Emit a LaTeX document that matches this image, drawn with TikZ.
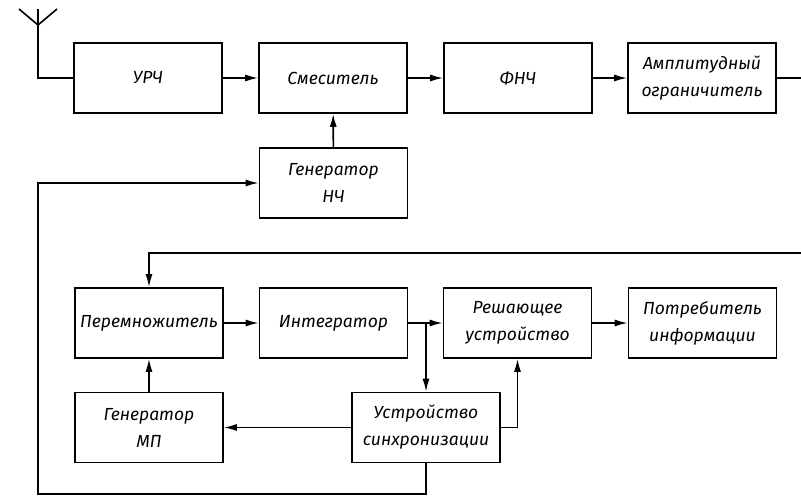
\documentclass[tikz,border=0pt]{standalone}
\usepackage{fontspec}
\setmainfont{Fira Sans}
\usetikzlibrary{arrows.meta}
\begin{document}
\begin{tikzpicture}[x=1pt,y=-1pt,
  line width=1.6pt,
  blk/.style={draw, rectangle, minimum width=148pt, minimum height=70pt, inner sep=1pt, align=center,
    font=\fontsize{17.5}{27}\selectfont\itshape},
  arr/.style={-{Latex[length=13pt,width=7pt]}}]
\useasboundingbox (0,0) rectangle (801,497);
% top row
\node[blk] (urch) at (148,78) {УРЧ};
\node[blk] (smes) at (333,78) {Смеситель};
\node[blk] (fnch) at (518,78) {ФНЧ};
\node[blk] (ampl) at (702,78) {Амплитудный\\ограничитель};
\node[blk] (gennch) at (333.5,183) {Генератор\\НЧ};
% middle row
\node[blk] (perem) at (149,323) {Перемножитель};
\node[blk] (integ) at (333.5,323) {Интегратор};
\node[blk] (resh) at (517.5,323) {Решающее\\устройство};
\node[blk] (potr) at (702.5,323) {Потребитель\\информации};
% bottom row
\node[blk] (genmp) at (149,427.5) {Генератор\\МП};
\node[blk] (sync) at (426,427.5) {Устройство\\синхронизации};
% antenna
\coordinate (ant) at (38,25);
\coordinate (anttop) at (38,9);
\draw (urch.west) -| (ant) -- (anttop);
\draw (19,9) -- (ant) -- (57,9);
% top chain
\draw[arr] (urch) -- (smes);
\draw[arr] (smes) -- (fnch);
\draw[arr] (fnch) -- (ampl);
\coordinate (outR) at (801,78);
\draw (ampl.east) -- (outR);
\draw[arr] (gennch) -- (smes);
% feedback to generator NCh
\coordinate (bl) at (38,494);
\draw[arr] (sync.south) |- (bl) |- (gennch.west);
% top feedback to multiplier
\coordinate (fbR) at (801,253);
\draw[arr] (fbR) -| (perem.north);
% middle chain
\draw[arr] (perem) -- (integ);
\draw[arr] (integ.east) -- (resh.west);
\draw[arr] (sync.north |- integ.east) -- (sync.north);
\draw[arr] (resh) -- (potr);
\draw[arr] (sync.west) -- (genmp.east);
\draw[arr] (genmp) -- (perem);
\draw[arr] (sync.east) -| (resh.south);
\end{tikzpicture}
\end{document}
